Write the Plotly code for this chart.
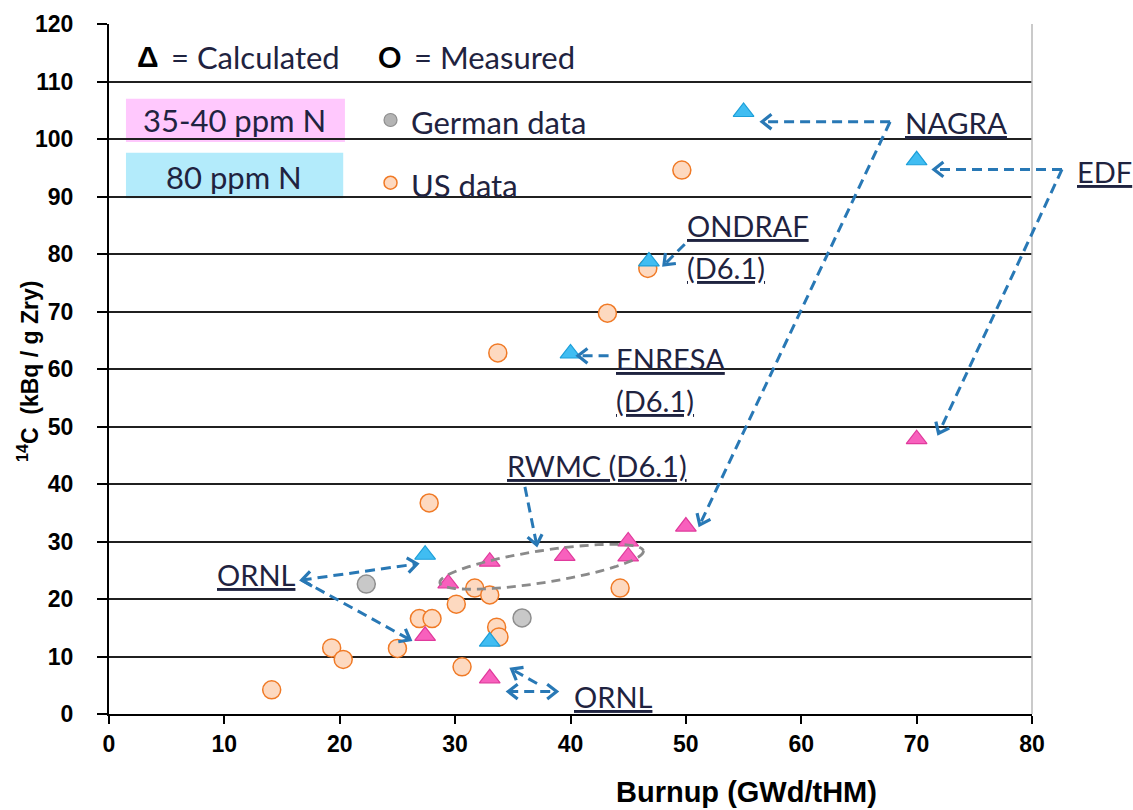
import math
import plotly.graph_objects as go

# ---------------- data ----------------
us_burnup = [14.1, 19.3, 20.3, 25.0, 26.9, 28.0, 27.75, 30.1, 30.6, 31.7, 33.0, 33.6, 33.8, 33.7, 43.2, 44.3, 46.7, 49.65]
us_c14 = [4.2, 11.5, 9.5, 11.4, 16.6, 16.6, 36.7, 19.1, 8.2, 21.9, 20.7, 15.1, 13.4, 62.8, 69.7, 21.9, 77.5, 94.6]

german_burnup = [22.3, 35.8]
german_c14 = [22.6, 16.7]

calc_35_40_burnup = [27.4, 29.4, 33.0, 33.0, 39.5, 45.0, 45.0, 50.0, 70.0]
calc_35_40_c14 = [13.6, 22.7, 26.5, 6.2, 27.5, 30.0, 27.4, 32.6, 47.8]

calc_80_burnup = [27.4, 33.0, 40.0, 46.8, 55.0, 70.0]
calc_80_c14 = [27.7, 12.6, 62.7, 78.7, 104.7, 96.3]

x_ticks = [0, 10, 20, 30, 40, 50, 60, 70, 80]
y_ticks = [0, 10, 20, 30, 40, 50, 60, 70, 80, 90, 100, 110, 120]

# ---------------- layout geometry ----------------
FIG_W, FIG_H = 1133, 810
L, R, T, B = 109, 1032, 24, 714
PW, PH = R - L, B - T
XMAX, YMAX = 80.0, 120.0

TEXT_FONT = "Lato, 'Open Sans', sans-serif"
AXIS_FONT = "'Liberation Sans', Arial, sans-serif"
TXT_COL = "#1f2340"
ARROW_COL = "#2878b5"


def pp(x, y):
    """data -> paper coordinates"""
    return x / XMAX, y / YMAX


def d2px(x, y):
    return L + x / XMAX * PW, B - y / YMAX * PH


def px2p(px, py):
    return (px - L) / PW, (B - py) / PH


fig = go.Figure()

fig.add_trace(go.Scatter(
    x=us_burnup, y=us_c14, mode="markers", name="US data",
    marker=dict(symbol="circle", size=18, color="#fdd9c0", line=dict(color="#f07a26", width=1.5)),
))
fig.add_trace(go.Scatter(
    x=german_burnup, y=german_c14, mode="markers", name="German data",
    marker=dict(symbol="circle", size=18, color="#c8c8c8", line=dict(color="#8e8e8e", width=1.5)),
))
fig.add_trace(go.Scatter(
    x=calc_35_40_burnup, y=calc_35_40_c14, mode="markers", name="35-40 ppm N",
    marker=dict(symbol="triangle-up", size=18, color="#f860bd", line=dict(color="#e03a9c", width=1.2)),
))
fig.add_trace(go.Scatter(
    x=calc_80_burnup, y=calc_80_c14, mode="markers", name="80 ppm N",
    marker=dict(symbol="triangle-up", size=18, color="#40bdf2", line=dict(color="#1c9fd9", width=1.2)),
))

# legend symbols (drawn in the plot like the reference)
fig.add_trace(go.Scatter(
    x=[24.4], y=[103.3], mode="markers", showlegend=False, hoverinfo="skip",
    marker=dict(symbol="circle", size=13, color="#b4b4b4", line=dict(color="#8e8e8e", width=1.2)),
))
fig.add_trace(go.Scatter(
    x=[24.4], y=[92.4], mode="markers", showlegend=False, hoverinfo="skip",
    marker=dict(symbol="circle", size=13, color="#fdd9c0", line=dict(color="#f07a26", width=1.5)),
))

shapes = []
annotations = []

# legend boxes
for (x0, x1, y0, y1, col) in [(1.47, 20.45, 99.5, 107.0, "#ffc8fd"), (1.47, 20.3, 89.7, 97.6, "#b3ebfb")]:
    a0 = pp(x0, y0)
    a1 = pp(x1, y1)
    shapes.append(dict(type="rect", xref="paper", yref="paper", x0=a0[0], y0=a0[1], x1=a1[0], y1=a1[1],
                       fillcolor=col, line=dict(width=0), layer="below"))

# right border
shapes.append(dict(type="line", xref="paper", yref="paper", x0=1, x1=1, y0=0, y1=1,
                   line=dict(color="#b8b8b8", width=1.5)))


def chevron(x0, y0, x1, y1, size=12, ang=38):
    p0 = d2px(x0, y0)
    p1 = d2px(x1, y1)
    dx, dy = p1[0] - p0[0], p1[1] - p0[1]
    n = math.hypot(dx, dy)
    ux, uy = dx / n, dy / n
    pts = []
    for s in (1, -1):
        th = math.radians(ang * s)
        rx = ux * math.cos(th) - uy * math.sin(th)
        ry = ux * math.sin(th) + uy * math.cos(th)
        pts.append((p1[0] - size * rx, p1[1] - size * ry))
    w1 = px2p(*pts[0])
    tip = px2p(*p1)
    w2 = px2p(*pts[1])
    path = f"M {w1[0]:.5f},{w1[1]:.5f} L {tip[0]:.5f},{tip[1]:.5f} L {w2[0]:.5f},{w2[1]:.5f}"
    shapes.append(dict(type="path", xref="paper", yref="paper", path=path,
                       line=dict(color=ARROW_COL, width=3.2)))


def dashed(x0, y0, x1, y1, head_end=True, head_start=False):
    a = pp(x0, y0)
    b = pp(x1, y1)
    shapes.append(dict(type="line", xref="paper", yref="paper", x0=a[0], y0=a[1], x1=b[0], y1=b[1],
                       line=dict(color=ARROW_COL, width=3, dash="10px,6px")))
    if head_end:
        chevron(x0, y0, x1, y1)
    if head_start:
        chevron(x1, y1, x0, y0)


# NAGRA
dashed(67.7, 103.0, 56.6, 103.0)
dashed(67.7, 103.0, 51.2, 32.9)
# EDF
dashed(82.6, 94.7, 71.5, 94.7)
dashed(82.6, 94.7, 71.9, 48.8)
# ONDRAF
dashed(49.9, 81.7, 48.1, 78.1)
# ENRESA
dashed(43.3, 62.3, 40.65, 62.3)
# RWMC
dashed(36.05, 39.5, 37.07, 29.4)
# ORNL (left)
dashed(16.7, 23.3, 26.7, 26.1, head_end=True, head_start=True)
dashed(16.7, 23.3, 26.1, 12.9)
# ORNL (bottom)
dashed(34.6, 3.9, 38.8, 3.9, head_end=True, head_start=True)
dashed(37.1, 5.3, 34.9, 7.8)

# RWMC grey dashed ellipse
cx, cy = d2px(37.5, 25.6)
a_ax, b_ax, phi = 103.0, 16.0, math.radians(-8.9)
ell = []
for i in range(73):
    t = 2 * math.pi * i / 72
    ex = cx + a_ax * math.cos(t) * math.cos(phi) - b_ax * math.sin(t) * math.sin(phi)
    ey = cy + a_ax * math.cos(t) * math.sin(phi) + b_ax * math.sin(t) * math.cos(phi)
    ell.append(px2p(ex, ey))
path = "M " + " L ".join(f"{p[0]:.5f},{p[1]:.5f}" for p in ell)
shapes.append(dict(type="path", xref="paper", yref="paper", path=path,
                   line=dict(color="#8a8a8a", width=2.8, dash="9px,6px")))


def label(text, x, y, xanchor="left", size=29, color=TXT_COL, font=TEXT_FONT):
    px_, py_ = pp(x, y)
    annotations.append(dict(text=text, x=px_, y=py_, xref="paper", yref="paper", showarrow=False,
                            xanchor=xanchor, yanchor="middle",
                            font=dict(family=font, size=size, color=color)))


label("<u>NAGRA</u>", 68.8, 102.9, size=29.5)
label("<u>EDF</u>", 83.7, 94.3)
label("<u>ONDRAF</u>", 49.9, 84.9)
label("<u>(D6.1)</u>", 49.9, 77.7)
label("<u>ENRESA</u>", 43.8, 61.9)
label("<u>(D6.1)</u>", 43.8, 54.6)
label("<u>RWMC (D6.1)</u>", 34.3, 43.3)
label("<u>ORNL</u>", 9.2, 24.2)
label("<u>ORNL</u>", 40.1, 3.1)

# legend texts
label("<b>Δ</b>", 3.38, 114.3, xanchor="center", color="black", font=AXIS_FONT, size=30)
label("= Calculated", 5.2, 114.3, size=31)
label("<b>O</b>", 24.35, 114.3, xanchor="center", color="black", size=29)
label("= Measured", 26.3, 114.3, size=31)
label("35-40 ppm N", 10.9, 103.3, xanchor="center", size=31)
label("80 ppm N", 10.8, 93.4, xanchor="center", size=31)
label("German data", 26.0, 103.0, size=31)
label("US data", 26.0, 92.0, size=31)

# axis titles
annotations.append(dict(text="<b>Burnup (GWd/tHM)</b>", xref="paper", yref="paper",
                        x=(746 - L) / PW, y=(B - 792) / PH, showarrow=False,
                        xanchor="center", yanchor="middle",
                        font=dict(family=AXIS_FONT, size=29, color="black")))
annotations.append(dict(text="<b><sup>14</sup>C  (kBq / g Zry)</b>", xref="paper", yref="paper",
                        x=(28 - L) / PW, y=(B - 372) / PH, showarrow=False, textangle=-90,
                        xanchor="center", yanchor="middle",
                        font=dict(family=AXIS_FONT, size=23, color="black")))

fig.update_layout(
    width=FIG_W, height=FIG_H,
    margin=dict(l=L, r=FIG_W - R, t=T, b=FIG_H - B),
    paper_bgcolor="white", plot_bgcolor="white",
    showlegend=False,
    shapes=shapes, annotations=annotations,
    xaxis=dict(range=[0, XMAX], tickvals=x_ticks, ticktext=[str(v) for v in x_ticks],
               showgrid=False, zeroline=False, showline=True, linecolor="black", linewidth=2,
               ticks="outside", ticklen=8, tickwidth=1.5, tickcolor="black",
               ticklabelstandoff=0,
               tickfont=dict(family=AXIS_FONT, size=23, color="black", weight="bold")),
    yaxis=dict(range=[0, YMAX], tickvals=y_ticks, ticktext=[str(v) for v in y_ticks],
               showgrid=True, gridcolor="#202020", gridwidth=1.6, zeroline=False,
               showline=True, linecolor="black", linewidth=2,
               ticks="outside", ticklen=10, tickwidth=1.5, tickcolor="black",
               ticklabelstandoff=19,
               tickfont=dict(family=AXIS_FONT, size=23, color="black", weight="bold")),
)

fig.write_html("out.html", config={"displayModeBar": False},
               post_script="document.body.style.margin='0px';document.body.style.overflow='hidden';")
